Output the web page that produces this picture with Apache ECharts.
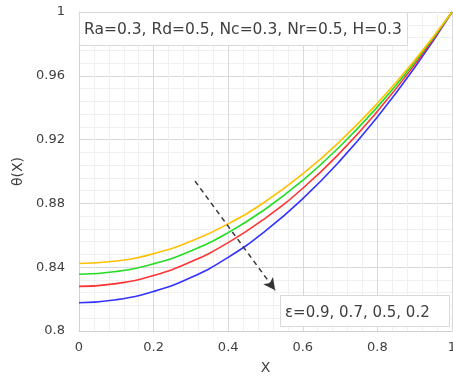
<!DOCTYPE html>
<html>
<head>
<meta charset="utf-8">
<script src="https://cdn.jsdelivr.net/npm/echarts@6/dist/echarts.min.js"></script>
<style>
  html, body { margin: 0; padding: 0; background: #fff; }
  #chart { width: 453px; height: 380px; }
</style>
</head>
<body>
<div id="chart"></div>
<script>
const xValues = [0, 0.1, 0.2, 0.3, 0.4, 0.5, 0.6, 0.7, 0.8, 0.9, 1]

// theta(X) for each epsilon
const eps09 = [0.8423, 0.8439, 0.8485, 0.8562, 0.8672, 0.8812, 0.8985, 0.9190, 0.9428, 0.9698, 1.0]
const eps07 = [0.8356, 0.8373, 0.8421, 0.8502, 0.8617, 0.8765, 0.8945, 0.9158, 0.9405, 0.9686, 1.0]
const eps05 = [0.8280, 0.8297, 0.8348, 0.8434, 0.8554, 0.8708, 0.8895, 0.9118, 0.9377, 0.9670, 1.0]
const eps02 = [0.8177, 0.8196, 0.8248, 0.8335, 0.8462, 0.8628, 0.8830, 0.9068, 0.9342, 0.9652, 1.0]

const paramText = "Ra=0.3, Rd=0.5, Nc=0.3, Nr=0.5, H=0.3"
const epsText = "ε=0.9, 0.7, 0.5, 0.2"

const font = "DejaVu Sans"

const chart = echarts.init(document.getElementById("chart"))

const makeSeries = (name, values, color) => ({
  name: name,
  type: "line",
  smooth: true,
  showSymbol: false,
  data: xValues.map((x, i) => [x, values[i]]),
  lineStyle: { color: color, width: 1.6 },
  itemStyle: { color: color },
  z: 3,
})

const option = {
  animation: false,
  textStyle: { fontFamily: font },
  title: [
    {
      text: paramText,
      left: 79,
      top: 12,
      padding: [10, 6, 8, 5],
      backgroundColor: "#fff",
      borderColor: "#d9d9d9",
      borderWidth: 1,
      textStyle: { fontFamily: font, fontSize: 15.5, fontWeight: "normal", color: "#404040" },
      z: 10,
    },
    {
      text: epsText,
      left: 280,
      top: 295,
      padding: [11, 20, 6, 5],
      backgroundColor: "#fff",
      borderColor: "#d9d9d9",
      borderWidth: 1,
      textStyle: { fontFamily: font, fontSize: 15, fontWeight: "normal", color: "#404040" },
      z: 10,
    },
  ],
  grid: {
    left: 79,
    right: 1,
    top: 12,
    bottom: 49,
    outerBoundsMode: "none",
  },
  xAxis: {
    type: "value",
    min: 0,
    max: 1,
    interval: 0.2,
    name: "X",
    nameLocation: "middle",
    nameGap: 30,
    nameTextStyle: { fontFamily: font, fontSize: 14, color: "#404040" },
    axisLine: { show: true, lineStyle: { color: "#d0d0d0" } },
    axisTick: { show: false },
    axisLabel: { fontFamily: font, fontSize: 13, color: "#404040", margin: 10 },
    splitLine: { show: true, lineStyle: { color: "#d9d9d9" } },
    minorTick: { show: false, splitNumber: 5 },
    minorSplitLine: { show: true, lineStyle: { color: "#f0f0f0" } },
  },
  yAxis: {
    type: "value",
    min: 0.8,
    max: 1,
    interval: 0.04,
    name: "θ(X)",
    nameLocation: "middle",
    nameGap: 52,
    nameTextStyle: { fontFamily: font, fontSize: 14, color: "#404040" },
    axisLine: { show: true, lineStyle: { color: "#d0d0d0" } },
    axisTick: { show: false },
    axisLabel: { fontFamily: font, fontSize: 13, color: "#404040", margin: 14 },
    splitLine: { show: true, lineStyle: { color: "#d9d9d9" } },
    minorTick: { show: false, splitNumber: 5 },
    minorSplitLine: { show: true, lineStyle: { color: "#f0f0f0" } },
  },
  series: [
    makeSeries("ε=0.2", eps02, "#3333ff"),
    makeSeries("ε=0.5", eps05, "#ff3333"),
    makeSeries("ε=0.7", eps07, "#22dd22"),
    makeSeries("ε=0.9", eps09, "#ffc000"),
    {
      type: "line",
      data: [],
      markLine: {
        silent: true,
        symbol: ["none", "arrow"],
        symbolSize: [9, 12],
        label: { show: false },
        lineStyle: { color: "#333", width: 1.5, type: [5, 4] },
        data: [[{ coord: [0.311, 0.894] }, { coord: [0.526, 0.8255] }]],
      },
      z: 5,
    },
  ],
}

chart.setOption(option)
</script>
</body>
</html>
